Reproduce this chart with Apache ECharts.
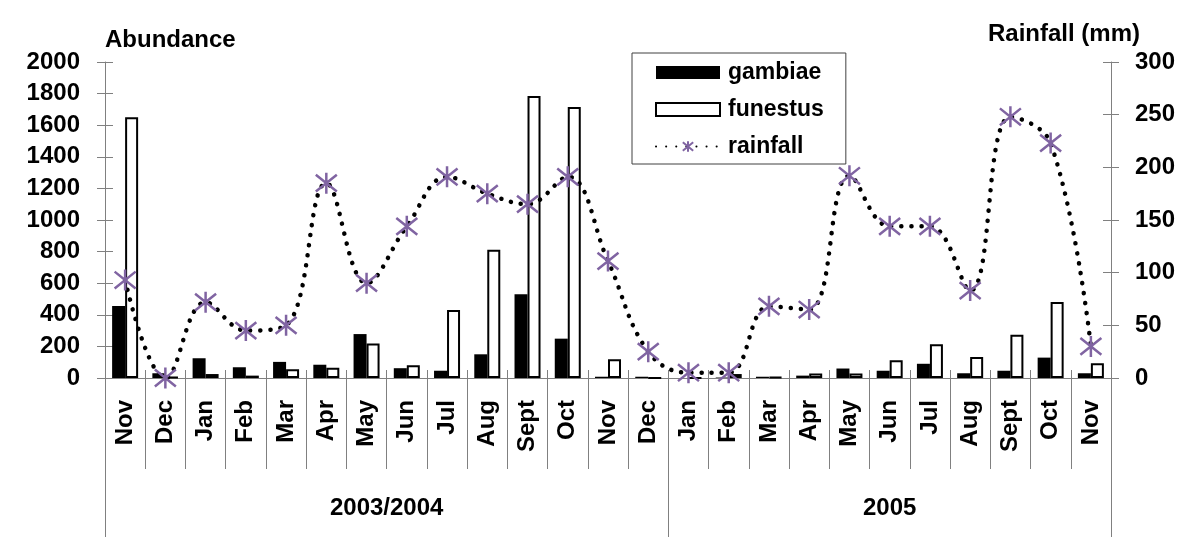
<!DOCTYPE html>
<html>
<head>
<meta charset="utf-8">
<script src="https://cdn.jsdelivr.net/npm/echarts@6/dist/echarts.min.js"></script>
<style>
  html, body { margin: 0; padding: 0; background: #fff; }
  #chart { width: 1200px; height: 547px; }
</style>
</head>
<body>
<div id="chart"></div>
<script>

  /******************/
  //region    //data

  var months = ['Nov', 'Dec', 'Jan', 'Feb', 'Mar', 'Apr', 'May', 'Jun', 'Jul', 'Aug', 'Sept', 'Oct', 'Nov', 'Dec',
    'Jan', 'Feb', 'Mar', 'Apr', 'May', 'Jun', 'Jul', 'Aug', 'Sept', 'Oct', 'Nov'];
  var groupNames = ['2003/2004', '2005'];
  var groupSizes = [14, 11];

  var gambiae = [455, 30, 125, 68, 102, 84, 278, 62, 46, 150, 530, 249, 8, 8,
    0, 3, 8, 15, 60, 46, 90, 30, 46, 129, 30];
  var funestus = [1650, 5, 25, 15, 55, 65, 219, 80, 430, 812, 1785, 1715, 118, 0,
    0, 25, 5, 28, 28, 112, 213, 133, 274, 481, 93];
  var rainfall = [93, 0, 72, 45, 50, 185, 90, 144, 191, 175, 165, 191, 111, 25,
    5, 5, 68, 65, 192, 144, 144, 83, 248, 223, 30];

  var abundanceRange = [0, 2000];
  var abundanceStep = 200;
  var rainRange = [0, 300];
  var rainStep = 50;

  //endregion

  /******************/
  //region    //initialize

  var FONT = "'Liberation Sans', Arial, sans-serif";
  var AXIS_GREY = '#808080';
  var STAR = 'path://M2,2L18,18M18,2L2,18M10,0L10,20';

  // group edges / centres in category units for the lower year axis
  var groupEdges = [0];
  var groupCenters = [];
  groupSizes.forEach(function (n, i) {
    groupCenters.push(groupEdges[i] + n / 2);
    groupEdges.push(groupEdges[i] + n);
  });

  //endregion

  /******************/
  //region    //function

  function labelStyle(size) {
    return {
      color: '#000',
      fontSize: size,
      fontWeight: 'bold',
      fontFamily: FONT
    };
  }

  function plain(v) {
    return String(v);
  }

  function valueAxis(pos, range, step, extra) {
    var axis = {
      type: 'value',
      position: pos,
      min: range[0],
      max: range[1],
      interval: step,
      splitLine: { show: false },
      axisLine: { show: true, lineStyle: { color: AXIS_GREY, width: 1 } },
      axisTick: { show: true, length: 8, lineStyle: { color: AXIS_GREY } },
      axisLabel: Object.assign({ margin: 25, formatter: plain }, labelStyle(24))
    };
    return Object.assign(axis, extra || {});
  }

  function innerTicks(pos, range, step) {
    return {
      type: 'value',
      position: pos,
      min: range[0],
      max: range[1],
      interval: step,
      splitLine: { show: false },
      axisLine: { show: false },
      axisTick: { show: true, inside: true, length: 8, lineStyle: { color: AXIS_GREY } },
      axisLabel: { show: false }
    };
  }

  function buildOption() {
    return {
      animation: false,
      backgroundColor: '#fff',
      grid: { left: 105, right: 89, top: 62, bottom: 169 },
      legend: {
        orient: 'vertical',
        left: 632,
        top: 53,
        padding: [8, 22, 6, 23],
        itemGap: 14,
        itemWidth: 64,
        itemHeight: 13,
        borderColor: '#404040',
        borderWidth: 1,
        textStyle: Object.assign({ padding: [0, 0, 0, 3] }, labelStyle(23)),
        data: [
          { name: 'gambiae', icon: 'rect' },
          { name: 'funestus', icon: 'rect' },
          { name: 'rainfall' }
        ]
      },
      xAxis: [
        {
          type: 'category',
          data: months,
          position: 'bottom',
          axisLine: { show: true, lineStyle: { color: AXIS_GREY, width: 1 } },
          axisTick: { show: true, interval: 0, length: 91, lineStyle: { color: AXIS_GREY } },
          axisLabel: Object.assign({ interval: 0, rotate: 90, margin: 22 }, labelStyle(24))
        },
        {
          type: 'category',
          data: months,
          position: 'bottom',
          axisLine: { show: false },
          axisTick: { show: true, inside: true, interval: 0, length: 8, lineStyle: { color: AXIS_GREY } },
          axisLabel: { show: false }
        },
        {
          type: 'value',
          position: 'bottom',
          min: 0,
          max: months.length,
          splitLine: { show: false },
          axisLine: { show: false },
          axisTick: { show: true, customValues: groupEdges, length: 159, lineStyle: { color: AXIS_GREY } },
          axisLabel: Object.assign({
            customValues: groupCenters,
            margin: 118,
            formatter: function (v) {
              return groupNames[groupCenters.indexOf(v)];
            }
          }, labelStyle(24))
        }
      ],
      yAxis: [
        valueAxis('left', abundanceRange, abundanceStep, {
          name: 'Abundance',
          nameLocation: 'end',
          nameGap: 10,
          nameTextStyle: Object.assign({ align: 'left' }, labelStyle(24))
        }),
        valueAxis('right', rainRange, rainStep, {
          axisLabel: Object.assign({ margin: 24, formatter: plain }, labelStyle(24)),
          name: 'Rainfall (mm)',
          nameLocation: 'end',
          nameGap: 16,
          nameTextStyle: Object.assign({ align: 'center', padding: [0, 94, 0, 0] }, labelStyle(24))
        }),
        innerTicks('left', abundanceRange, abundanceStep),
        innerTicks('right', rainRange, rainStep)
      ],
      series: [
        {
          name: 'gambiae',
          type: 'bar',
          xAxisIndex: 0,
          yAxisIndex: 0,
          barWidth: 13,
          barGap: '0%',
          itemStyle: { color: '#000' },
          data: gambiae
        },
        {
          name: 'funestus',
          type: 'bar',
          xAxisIndex: 0,
          yAxisIndex: 0,
          barWidth: 13,
          barGap: '0%',
          itemStyle: { color: '#fff', borderColor: '#000', borderWidth: 2 },
          data: funestus
        },
        {
          name: 'rainfall',
          type: 'line',
          xAxisIndex: 0,
          yAxisIndex: 1,
          smooth: 0.4,
          symbol: STAR,
          symbolSize: 21,
          z: 5,
          lineStyle: { color: '#000', width: 4.5, type: [0.1, 10], cap: 'round' },
          itemStyle: { color: '#8064A2', borderColor: '#8064A2', borderWidth: 2.5 },
          data: rainfall
        }
      ]
    };
  }

  function mounted() {
    var chart = echarts.init(document.getElementById('chart'));
    chart.setOption(buildOption());
  }

  mounted();

  //endregion
</script>
</body>
</html>
